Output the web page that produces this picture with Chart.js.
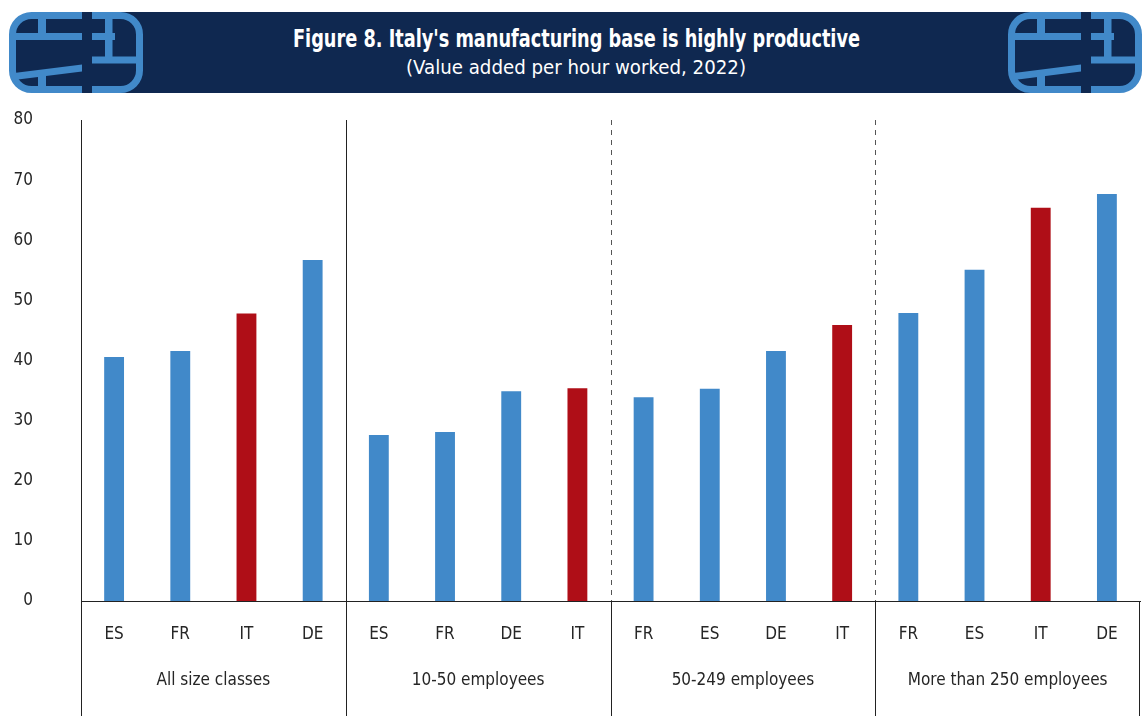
<!DOCTYPE html>
<html>
<head>
<meta charset="utf-8">
<script src="https://cdn.jsdelivr.net/npm/chart.js@4.4.1/dist/chart.umd.min.js"></script>
<style>
  html, body { margin: 0; padding: 0; background: #fff; }
  #wrap { position: relative; width: 1146px; height: 716px; overflow: hidden; }
  #head { position: absolute; left: 0; top: 0; z-index: 2; }
  #myChart { position: absolute; left: 0; top: 0; }
</style>
</head>
<body>
<div id="wrap">
  <svg id="head" width="1146" height="100" xmlns="http://www.w3.org/2000/svg">
    <defs>
      <g id="logo">
        <rect x="3.5" y="3.5" width="127" height="74" rx="19" fill="#0f2850" stroke="#4189c9" stroke-width="7"/>
        <g fill="#4189c9">
          <rect x="29" y="0" width="8" height="28"/>
          <rect x="5" y="21" width="68" height="7"/>
          <polygon points="5,61 73,52.5 73,59.5 5,68"/>
          <rect x="29" y="60" width="8" height="21"/>
          <rect x="96" y="0" width="7.5" height="51"/>
          <rect x="83" y="21" width="23" height="7"/>
          <rect x="83" y="44.5" width="45" height="7"/>
        </g>
        <rect x="73" y="0" width="10" height="81" fill="#0f2850"/>
      </g>
    </defs>
    <rect x="40" y="12" width="1070" height="81" fill="#0f2850"/>
    <use href="#logo" x="9" y="12"/>
    <use href="#logo" x="1008" y="12"/>
    <text x="293" y="47" fill="#fff" textLength="567" lengthAdjust="spacingAndGlyphs"
      style="font-family:'DejaVu Sans Condensed','DejaVu Sans',sans-serif;font-weight:bold;font-size:25px">Figure 8. Italy's manufacturing base is highly productive</text>
    <text x="406" y="74" fill="#fff" textLength="340" lengthAdjust="spacingAndGlyphs"
      style="font-family:'DejaVu Sans Condensed','DejaVu Sans',sans-serif;font-size:19px">(Value added per hour worked, 2022)</text>
  </svg>
  <canvas id="myChart" width="1146" height="716"></canvas>
</div>
<script>
// size classes, in the order they appear left to right
const groups = ["All size classes", "10-50 employees", "50-249 employees", "More than 250 employees"];

// countries inside each size class (sorted by value in the source)
const countries = [
  "ES", "FR", "IT", "DE",
  "ES", "FR", "DE", "IT",
  "FR", "ES", "DE", "IT",
  "FR", "ES", "IT", "DE",
];

// value added per hour worked, 2022
const values = [
  40.6, 41.6, 47.8, 56.7,
  27.6, 28.1, 34.9, 35.4,
  33.9, 35.3, 41.6, 45.9,
  47.9, 55.1, 65.4, 67.7,
];

const yMin = 0;
const yMax = 80;
const yStep = 10;

const BLUE = "#4189c9";
const RED = "#af0e17";
const FONT = "'DejaVu Sans Condensed', 'DejaVu Sans', sans-serif";
const TEXT = "#262626";

// Italy highlighted in red
const barColors = countries.map((c) => (c === "IT" ? RED : BLUE));

// draws the frame: y axis line, group separators and the right edge of the label box
const separators = {
  id: "separators",
  afterDraw(chart) {
    const { ctx, chartArea, scales } = chart;
    const x = scales.x;
    const bottom = chart.height;
    const per = countries.length / groups.length;
    ctx.save();
    ctx.strokeStyle = "#222";
    ctx.lineWidth = 1;
    const line = (x1, y1, x2, y2, dash) => {
      ctx.setLineDash(dash || []);
      ctx.beginPath();
      ctx.moveTo(x1, y1);
      ctx.lineTo(x2, y2);
      ctx.stroke();
    };
    const L = Math.round(chartArea.left) + 0.5;
    const R = Math.round(chartArea.right) - 0.5;
    line(L, chartArea.top, L, bottom);
    line(R, chartArea.bottom, R, bottom);
    for (let i = 1; i < groups.length; i++) {
      const px = Math.round((x.getPixelForValue(i * per - 1) + x.getPixelForValue(i * per)) / 2) + 0.5;
      if (i === 1) {
        line(px, chartArea.top, px, bottom);
      } else {
        ctx.strokeStyle = "#555";
        line(px, chartArea.top, px, chartArea.bottom, [5, 5]);
        ctx.strokeStyle = "#222";
        line(px, chartArea.bottom, px, bottom);
      }
    }
    ctx.restore();
  },
};

const config = {
  type: "bar",
  data: {
    labels: countries,
    datasets: [
      {
        label: "Value added per hour worked",
        data: values,
        backgroundColor: barColors,
        borderWidth: 0,
        barPercentage: 0.3,
        categoryPercentage: 1,
      },
    ],
  },
  options: {
    responsive: false,
    animation: false,
    layout: { padding: { top: 120, right: 6, left: 0, bottom: 0 } },
    plugins: {
      legend: { display: false },
      tooltip: { enabled: false },
    },
    scales: {
      x: {
        type: "category",
        position: "bottom",
        grid: { display: false, drawTicks: false },
        border: { display: true, color: "#222", width: 1 },
        ticks: {
          autoSkip: false,
          maxRotation: 0,
          padding: 23,
          color: TEXT,
          font: { family: FONT, size: 17 },
        },
        afterFit(scale) {
          scale.height = 55;
        },
      },
      x2: {
        type: "category",
        position: "bottom",
        labels: groups,
        offset: true,
        grid: { display: false, drawTicks: false },
        border: { display: false },
        ticks: {
          autoSkip: false,
          maxRotation: 0,
          padding: 14,
          color: TEXT,
          font: { family: FONT, size: 17 },
        },
        afterFit(scale) {
          scale.height = 60;
        },
      },
      y: {
        min: yMin,
        max: yMax,
        grid: { display: false, drawTicks: false },
        border: { display: false },
        ticks: {
          stepSize: yStep,
          padding: 48,
          color: TEXT,
          font: { family: FONT, size: 17 },
        },
        afterFit(scale) {
          scale.width = 81;
        },
      },
    },
  },
  plugins: [separators],
};

const myChart = new Chart(document.getElementById("myChart"), config);
</script>
</body>
</html>
